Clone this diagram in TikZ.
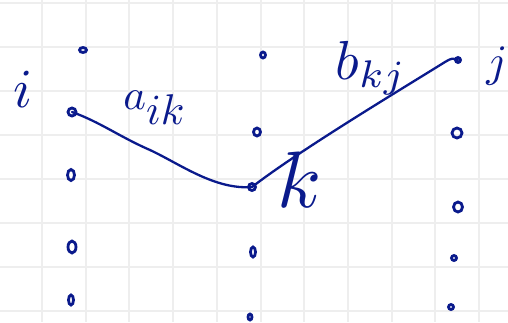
\documentclass[tikz,border=0pt]{standalone}
\usetikzlibrary{shapes.geometric}
\definecolor{ink}{RGB}{10,26,140}
\definecolor{gridc}{RGB}{238,238,238}
\begin{document}
\begin{tikzpicture}[x=1pt,y=-1pt,
  gridline/.style={draw=gridc,line width=2pt},
  pen/.style={draw=ink,line width=2.3pt,line cap=round,line join=round},
  entry/.style 2 args={ellipse,draw=ink,line width=2.8pt,inner sep=0pt,
    minimum width=#1pt,minimum height=#2pt},
  lbl/.style={text=ink,inner sep=0pt}]
\useasboundingbox[fill=white] (0,0) rectangle (508,322);
% grid
\foreach \gx in {42,85.7,129.4,173.1,216.8,260.5,304.2,347.9,391.6,435.3,479}
  \draw[gridline] (\gx,0) -- (\gx,322);
\foreach \gy in {3,47,91,135,179,223,267,311}
  \draw[gridline] (0,\gy) -- (508,\gy);
% column i entries
\node[entry={7}{5}]  (c1a) at (83,50)  {};
\node[entry={8}{8}]  (ai)  at (72,112) {};
\node[entry={7}{11}] (c1c) at (71,175) {};
\node[entry={8}{12}] (c1d) at (72,247) {};
\node[entry={5}{10}] (c1e) at (71,300) {};
% column k entries
\node[entry={5}{6}]  (c2a) at (263,55)  {};
\node[entry={7}{8}]  (c2b) at (257,132) {};
\node[entry={7}{7}]  (kk)  at (252,187) {};
\node[entry={5}{10}] (c2d) at (253,252) {};
\node[entry={4}{6}]  (c2e) at (250,317) {};
% column j entries
\node[entry={5}{5}]  (jj)  at (458,60)  {};
\node[entry={10}{10}] (c3b) at (457,133) {};
\node[entry={9}{10}] (c3c) at (458,207) {};
\node[entry={5}{5}]  (c3d) at (454,258) {};
\node[entry={5}{5}]  (c3e) at (451,307) {};
% connectors
\draw[pen] (ai.center) .. controls (100,122) and (120,137) .. (150,150)
  .. controls (180,164) and (215,190) .. (kk.center);
\draw[pen] (kk.center) .. controls (300,150) and (400,90) .. (445,62)
  .. controls (452,58) .. (jj.center);
% labels
\node[lbl,scale=5.5] (li) at (23,89) {$i$};
\node[lbl,scale=4.3] (la) at (155,108) {$a_{\textstyle ik}$};
\node[lbl,scale=5.5] (lb) at (371,68) {$b_{kj}$};
\node[lbl,scale=8] (lk) at (300,180) {$k$};
\node[lbl,scale=4.5] (lj) at (497,66) {$j$};
\end{tikzpicture}
\end{document}
